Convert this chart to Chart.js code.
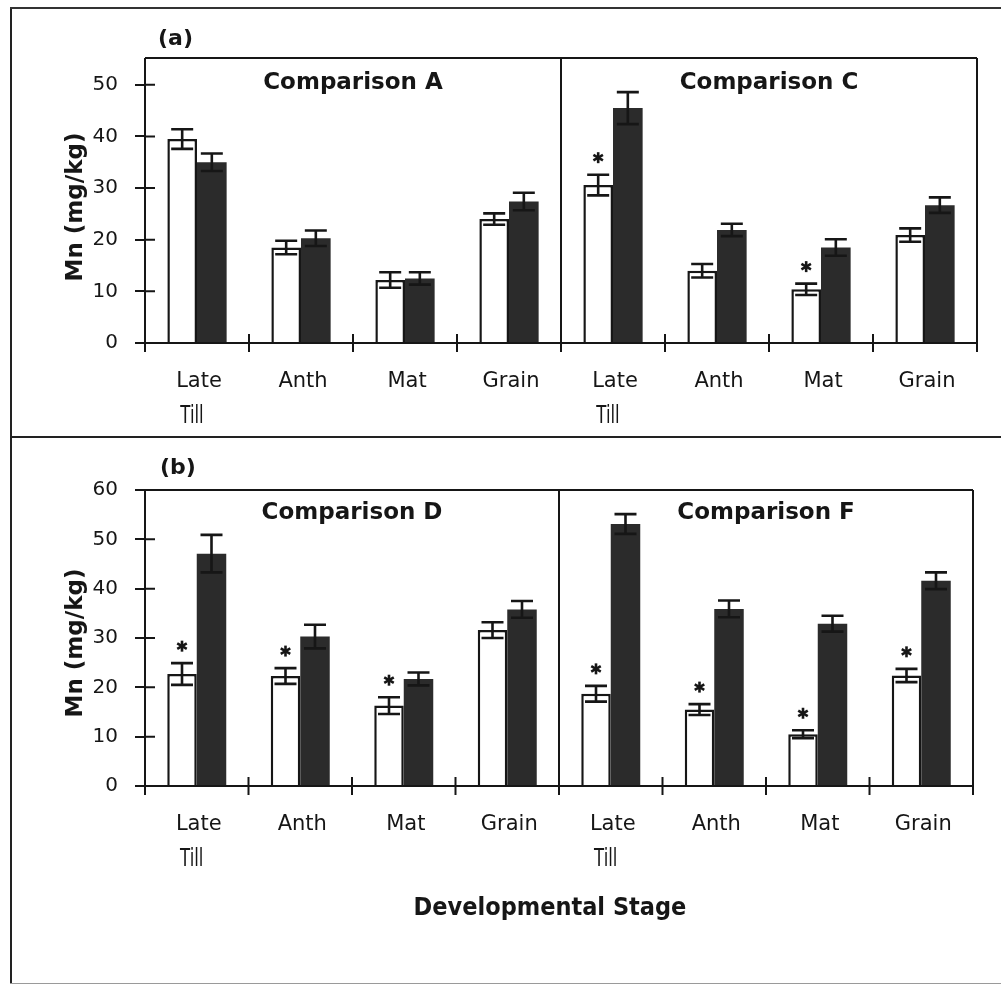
<!DOCTYPE html>
<html>
<head>
<meta charset="utf-8">
<title>Mn concentration by developmental stage</title>
<script src="https://cdn.jsdelivr.net/npm/chart.js@4.4.1/dist/chart.umd.min.js"></script>
<style>
  html, body { margin: 0; padding: 0; background: #ffffff; }
  #page { position: relative; width: 1001px; height: 987px; overflow: hidden; background: #fff; }
  canvas { position: absolute; left: 0; }
  #cvA { top: 0; }
  #cvB { top: 437px; }
  .rule { position: absolute; z-index: 2; }
</style>
</head>
<body>
<div id="page">
  <canvas id="cvA" width="1001" height="437"></canvas>
  <canvas id="cvB" width="1001" height="550"></canvas>
  <div class="rule" style="left:10px;top:7px;width:2px;height:977px;background:#222;"></div>
  <div class="rule" style="left:10px;top:7px;width:991px;height:2px;background:#333;"></div>
  <div class="rule" style="left:10px;top:436px;width:991px;height:2px;background:#222;"></div>
  <div class="rule" style="left:10px;top:983px;width:991px;height:1px;background:#9a9a9a;"></div>
</div>
<script>
// ---- data ----------------------------------------------------------------
const stages = ['Late Till', 'Anth', 'Mat', 'Grain'];
const stageLines = [['Late', 'Till'], ['Anth'], ['Mat'], ['Grain']];

// Panel (a): Comparison A and Comparison C, Mn (mg/kg)
const openA     = [39.5, 18.5, 12.2, 24.0];
const openAErr  = [1.9, 1.3, 1.5, 1.1];
const solidA    = [35.0, 20.3, 12.5, 27.4];
const solidAErr = [1.7, 1.5, 1.2, 1.7];
const sigA      = [0, 0, 0, 0];

const openC     = [30.6, 14.0, 10.4, 20.9];
const openCErr  = [2.0, 1.3, 1.1, 1.3];
const solidC    = [45.5, 21.9, 18.5, 26.7];
const solidCErr = [3.1, 1.2, 1.6, 1.5];
const sigC      = [1, 0, 1, 0];

// Panel (b): Comparison D and Comparison F, Mn (mg/kg)
const openD     = [22.7, 22.3, 16.3, 31.6];
const openDErr  = [2.2, 1.6, 1.7, 1.6];
const solidD    = [47.1, 30.3, 21.7, 35.8];
const solidDErr = [3.8, 2.4, 1.3, 1.7];
const sigD      = [1, 1, 1, 0];

const openF     = [18.7, 15.5, 10.5, 22.4];
const openFErr  = [1.6, 1.1, 0.8, 1.35];
const solidF    = [53.1, 35.9, 32.9, 41.6];
const solidFErr = [2.0, 1.7, 1.6, 1.7];
const sigF      = [1, 1, 1, 1];

const ticksA = [0, 10, 20, 30, 40, 50];
const ticksB = [0, 10, 20, 30, 40, 50, 60];

// ---- drawing -------------------------------------------------------------
const INK = '#161616';
const SOLID = '#2b2b2b';
Chart.defaults.font.family = "'DejaVu Sans', sans-serif";
Chart.defaults.color = INK;

function asterisk(ctx, cx, cy, r) {
  ctx.save();
  ctx.lineWidth = 2.6;
  ctx.lineCap = 'butt';
  for (let k = 0; k < 3; k++) {
    const a = Math.PI / 2 + k * Math.PI / 3;
    ctx.beginPath();
    ctx.moveTo(cx - r * Math.cos(a), cy - r * Math.sin(a));
    ctx.lineTo(cx + r * Math.cos(a), cy + r * Math.sin(a));
    ctx.stroke();
  }
  ctx.restore();
}

const panelDecor = {
  id: 'panelDecor',
  afterDatasetsDraw(chart, args, o) {
    const ctx = chart.ctx;
    const ys = chart.scales.y;
    ctx.save();
    ctx.strokeStyle = INK;
    ctx.fillStyle = INK;
    ctx.lineWidth = 2.6;
    // error bars on every bar, asterisk above flagged open bars
    chart.data.datasets.forEach((ds, di) => {
      const meta = chart.getDatasetMeta(di);
      meta.data.forEach((bar, i) => {
        const v = ds.data[i], e = ds.err[i];
        const yt = ys.getPixelForValue(v + e);
        const yb = ys.getPixelForValue(v - e);
        const half = 11;
        ctx.beginPath();
        ctx.moveTo(bar.x, yt); ctx.lineTo(bar.x, yb);
        ctx.moveTo(bar.x - half, yt); ctx.lineTo(bar.x + half, yt);
        ctx.moveTo(bar.x - half, yb); ctx.lineTo(bar.x + half, yb);
        ctx.stroke();
        if (ds.sig && ds.sig[i]) {
          asterisk(ctx, bar.x, yt - 17, 5.5);
        }
      });
    });
    ctx.restore();
  },
  afterDraw(chart, args, o) {
    const ctx = chart.ctx;
    const xs = chart.scales.x, ys = chart.scales.y;
    const {left, right, top, bottom} = chart.chartArea;
    const n = chart.data.labels.length;
    const bound = i => i === 0 ? left : (i === n ? right :
      (xs.getPixelForValue(i - 1) + xs.getPixelForValue(i)) / 2);
    const mid = bound(n / 2);
    ctx.save();
    ctx.strokeStyle = INK;
    ctx.lineWidth = 2;
    ctx.beginPath();
    // plot frame, divider and axis lines
    ctx.moveTo(left, top); ctx.lineTo(right, top);
    ctx.moveTo(left, top); ctx.lineTo(left, bottom + 9);
    ctx.moveTo(right, top); ctx.lineTo(right, bottom + 9);
    ctx.moveTo(mid, top); ctx.lineTo(mid, bottom + 9);
    ctx.moveTo(left - 10, bottom); ctx.lineTo(right, bottom);
    // category boundary ticks crossing the x axis
    for (let i = 1; i < n; i++) {
      if (i === n / 2) continue;
      const bx = bound(i);
      ctx.moveTo(bx, bottom - 9); ctx.lineTo(bx, bottom + 9);
    }
    // inward half of the y ticks
    ys.ticks.forEach(t => {
      const py = ys.getPixelForValue(t.value);
      ctx.moveTo(left, py); ctx.lineTo(left + 10, py);
    });
    ctx.stroke();

    ctx.fillStyle = INK;
    ctx.textBaseline = 'middle';
    // y axis title
    ctx.save();
    ctx.translate(o.yTitleX, o.yTitleY);
    ctx.rotate(-Math.PI / 2);
    ctx.font = "bold 23px 'DejaVu Sans'";
    ctx.textAlign = 'center';
    ctx.fillText('Mn (mg/kg)', 0, 0);
    ctx.restore();
    // panel letter
    ctx.font = "bold 22px 'DejaVu Sans'";
    ctx.textAlign = 'left';
    ctx.fillText(o.letter, o.letterX, o.letterY);
    // comparison titles
    ctx.font = "bold 23px 'DejaVu Sans'";
    ctx.textAlign = 'center';
    ctx.fillText(o.titles[0], (left + mid) / 2, o.titleY);
    ctx.fillText(o.titles[1], (mid + right) / 2, o.titleY);
    // stage labels under each category
    chart.data.labels.forEach((lab, i) => {
      const cx = xs.getPixelForValue(i);
      const lines = stageLines[i % stageLines.length];
      ctx.font = "21px 'DejaVu Sans'";
      ctx.fillText(lines[0], cx + 2, o.labelY[0]);
      if (lines[1]) {
        ctx.save();
        ctx.translate(cx - 5, o.labelY[1]);
        ctx.scale(0.66, 1);
        ctx.font = "25px 'DejaVu Sans'";
        ctx.fillText(lines[1], 0, 0);
        ctx.restore();
      }
    });
    if (o.xTitle) {
      ctx.font = "bold 25px 'DejaVu Sans Condensed', 'DejaVu Sans'";
      ctx.fillText(o.xTitle, o.xTitleX, o.xTitleY);
    }
    ctx.restore();
  }
};

function buildPanel(canvasId, open, openErr, solid, solidErr, sigL, sigR,
                    openR, openErrR, solidR, solidErrR, yMax, yTicks, pad, decor) {
  const labels = stages.concat(stages).map((s, i) => (i < 4 ? 'L ' : 'R ') + s);
  return new Chart(document.getElementById(canvasId), {
    type: 'bar',
    data: {
      labels: labels,
      datasets: [
        {
          label: 'open',
          data: open.concat(openR),
          err: openErr.concat(openErrR),
          sig: sigL.concat(sigR),
          backgroundColor: '#ffffff',
          borderColor: INK,
          borderWidth: 2.5,
          borderSkipped: 'start'
        },
        {
          label: 'solid',
          data: solid.concat(solidR),
          err: solidErr.concat(solidErrR),
          backgroundColor: SOLID,
          borderColor: SOLID,
          borderWidth: 0
        }
      ]
    },
    options: {
      responsive: false,
      animation: false,
      devicePixelRatio: 1,
      layout: { padding: pad },
      categoryPercentage: 0.57,
      barPercentage: 1.0,
      plugins: {
        legend: { display: false },
        tooltip: { enabled: false },
        panelDecor: decor
      },
      scales: {
        x: { type: 'category', display: false, offset: true },
        y: {
          min: 0,
          max: yMax,
          afterBuildTicks: s => { s.ticks = yTicks.map(v => ({ value: v })); },
          afterFit: s => { s.width = 145; },
          border: { display: false },
          grid: {
            display: true, drawOnChartArea: false, drawTicks: true,
            tickLength: 10, lineWidth: 2, color: INK
          },
          ticks: {
            padding: 17,
            font: { size: 20, family: "'DejaVu Sans'" },
            color: INK
          },
          title: { display: false }
        }
      }
    },
    plugins: [panelDecor]
  });
}

buildPanel('cvA', openA, openAErr, solidA, solidAErr, sigA, sigC,
  openC, openCErr, solidC, solidCErr, 55.2, ticksA,
  { left: 0, right: 24, top: 58, bottom: 94 },
  { letter: '(a)', letterX: 158, letterY: 39, titles: ['Comparison A', 'Comparison C'],
    titleY: 83, labelY: [382, 416], yTitleX: 76, yTitleY: 207 });

buildPanel('cvB', openD, openDErr, solidD, solidDErr, sigD, sigF,
  openF, openFErr, solidF, solidFErr, 60, ticksB,
  { left: 0, right: 28, top: 53, bottom: 201 },
  { letter: '(b)', letterX: 160, letterY: 31, titles: ['Comparison D', 'Comparison F'],
    titleY: 76, labelY: [388, 422], yTitleX: 76, yTitleY: 206,
    xTitle: 'Developmental Stage', xTitleX: 550, xTitleY: 471 });
</script>
</body>
</html>
